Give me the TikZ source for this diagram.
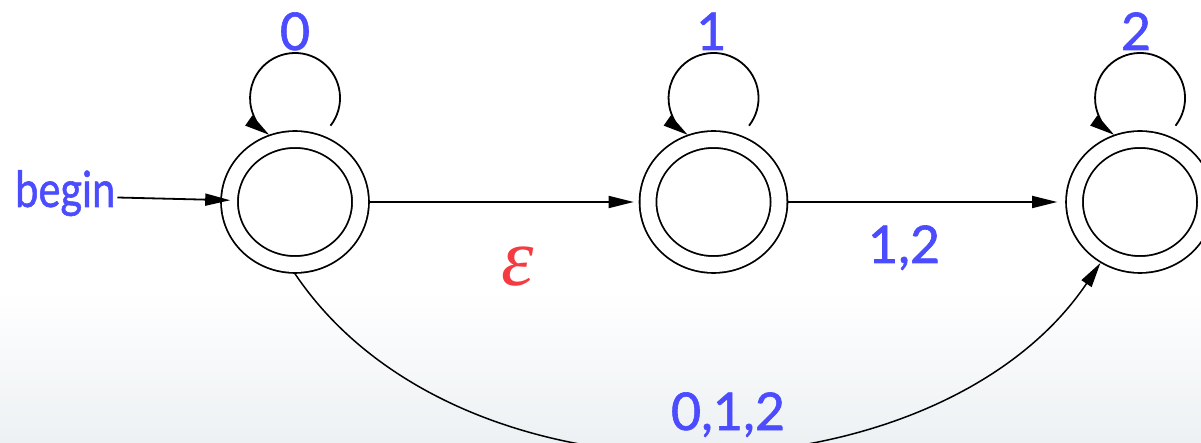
\documentclass[tikz,border=0pt]{standalone}
\usepackage{fontspec}
\setmainfont{Lato}
\newfontfamily\labfont[FakeBold=1.2]{Lato}
\newfontfamily\epsfont{Liberation Serif}
\usetikzlibrary{arrows.meta,shapes.geometric,calc}
\definecolor{lblue}{RGB}{75,75,255}
\definecolor{lred}{RGB}{245,59,66}
\definecolor{bgbot}{RGB}{237,241,243}
\tikzset{
  state/.style={ellipse, draw, double, double distance=15pt, line width=1.8pt,
    minimum width=131pt, minimum height=125pt, inner sep=0pt, outer sep=9.3pt},
  arr/.style={line width=1.8pt, -{Triangle[length=25pt,width=12pt]}},
  lab/.style={text=lblue, font=\labfont\fontsize{52}{52}\selectfont, inner sep=0pt},
  eps/.style={text=lred, font=\epsfont\itshape\fontsize{82}{82}\selectfont, inner sep=0pt},
}
\begin{document}
\begin{tikzpicture}[x=1pt,y=1pt]
\useasboundingbox (0,0) rectangle (1201,442);
\fill[white] (0,0) rectangle (1201,442);
\shade[top color=white, bottom color=bgbot] (0,0) rectangle (1201,152);

\node[state] (s0) at (295,240) {};
\node[state] (s1) at (713.5,240) {};
\node[state] (s2) at (1140,240) {};

% initial arrow
\node[lab, anchor=base west] (beg) at (15,235) {\scalebox{0.8}[0.96]{begin}};
\draw[arr, shorten >=-10pt] ([xshift=2pt,yshift=9.5pt]beg.base east) -- ([yshift=2pt]s0.west);

% self loops
\foreach \s/\t/\dx in {s0/0/0, s1/1/-2, s2/2/-4}{
  \draw[arr] ([shift={(35.5pt,76.3pt)}]\s.center) arc[start angle=-38, end angle=235, radius=45pt];
  \node[lab, anchor=base] (l\s) at ([shift={(\dx pt,152pt)}]\s.center) {\t};
}

% transitions
\draw[arr, shorten >=5pt] (s0.east) -- (s1.west)
  node[eps, pos=0.55, anchor=base, yshift=-83pt] (le) {ε};
\draw[arr, shorten >=8pt] (s1.east) -- (s2.west)
  node[lab, pos=0.418, anchor=base, yshift=-61pt] (l12) {1,2};
\draw[arr, line width=1.5pt] (s0.south) .. controls +(-56:300pt) and +(-124:290pt) .. (s2.237);
\node[lab, anchor=base] (l012) at ([shift={(10.5pt,-228pt)}]$(s0)!0.5!(s2)$) {0,1,2};
\end{tikzpicture}
\end{document}
